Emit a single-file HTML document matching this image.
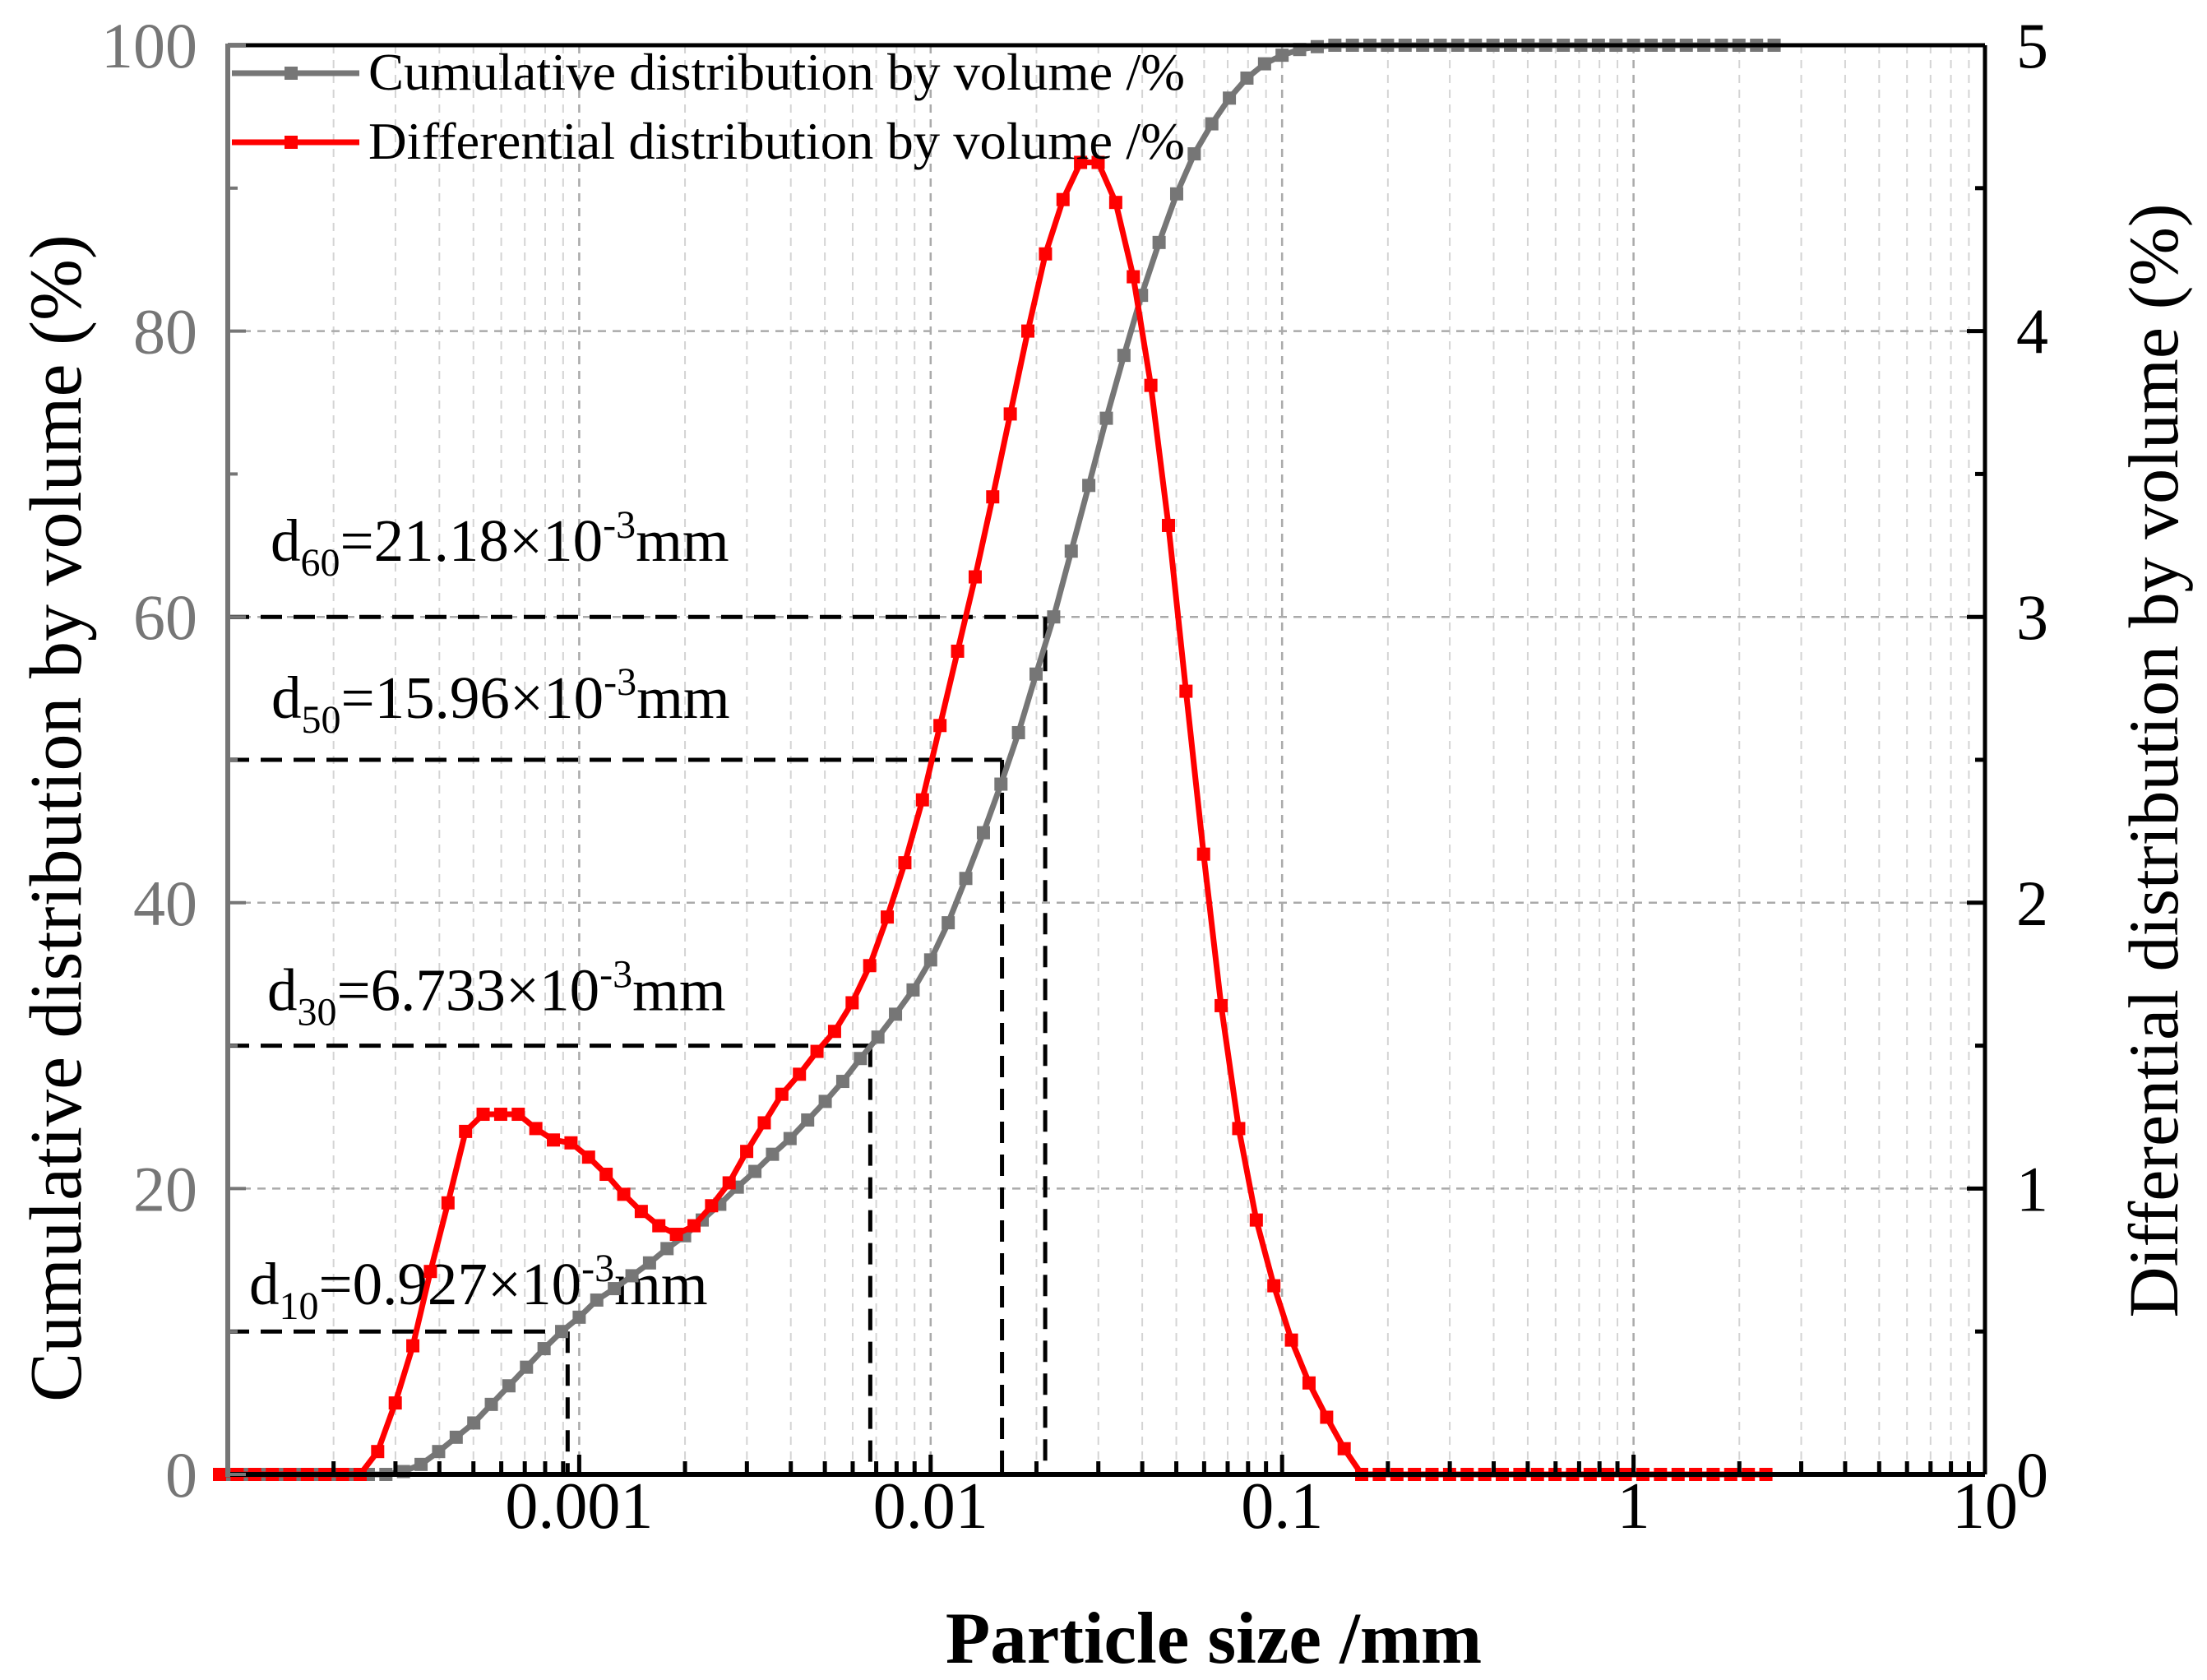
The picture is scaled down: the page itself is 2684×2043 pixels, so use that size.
<!DOCTYPE html>
<html><head><meta charset="utf-8"><style>
html,body{margin:0;padding:0;background:#fff}
svg{display:block;font-family:"Liberation Serif",serif}
</style></head><body>
<svg id="chart" width="2684" height="2043" viewBox="0 0 2684 2043" xmlns="http://www.w3.org/2000/svg">
<g id="grid"></g>
<g id="annot"></g>
<g id="series"></g>
<g id="axes"></g>
<g id="legend"></g>
</svg>
<script>
const sizes = [
0.0001,0.0001122,0.0001259,0.0001413,0.0001585,0.0001778,0.0001995,0.0002239,0.0002512,0.0002818,
0.0003162,0.0003548,0.0003981,0.0004467,0.0005012,0.0005623,0.000631,0.0007079,0.0007943,0.0008913,
0.001,0.001122,0.001259,0.001413,0.001585,0.001778,0.001995,0.002239,0.002512,0.002818,
0.003162,0.003548,0.003981,0.004467,0.005012,0.005623,0.00631,0.007079,0.007943,0.008913,
0.01,0.01122,0.01259,0.01413,0.01585,0.01778,0.01995,0.02239,0.02512,0.02818,
0.03162,0.03548,0.03981,0.04467,0.05012,0.05623,0.0631,0.07079,0.07943,0.08913,
0.1,0.1122,0.1259,0.1413,0.1585,0.1778,0.1995,0.2239,0.2512,0.2818,
0.3162,0.3548,0.3981,0.4467,0.5012,0.5623,0.631,0.7079,0.7943,0.8913,
1,1.122,1.259,1.413,1.585,1.778,1.995,2.239,2.512];
const cumulative = [
0,0,0,0,0,0,0,0,0,0,
0.2,0.7,1.6,2.6,3.6,4.9,6.2,7.5,8.8,10,
11,12.2,13,13.9,14.8,15.8,16.7,17.8,18.9,20.1,
21.2,22.4,23.5,24.8,26.1,27.5,29.1,30.6,32.2,33.9,
36,38.6,41.7,44.9,48.3,51.9,56,60,64.6,69.2,
73.9,78.3,82.5,86.2,89.6,92.4,94.5,96.3,97.7,98.7,
99.3,99.7,99.9,100,100,100,100,100,100,100,
100,100,100,100,100,100,100,100,100,100,
100,100,100,100,100,100,100,100,100];
const differential = [
0,0,0,0,0,0,0,0,0,0.08,
0.25,0.45,0.71,0.95,1.2,1.26,1.26,1.26,1.21,1.17,
1.16,1.11,1.05,0.98,0.92,0.87,0.84,0.87,0.94,1.02,
1.13,1.23,1.33,1.40,1.48,1.55,1.65,1.78,1.95,2.14,
2.36,2.62,2.88,3.14,3.42,3.71,4.0,4.27,4.46,4.59,
4.59,4.45,4.19,3.81,3.32,2.74,2.17,1.64,1.21,0.89,
0.66,0.47,0.32,0.2,0.09,0,0,0,0,0,
0,0,0,0,0,0,0,0,0,0,
0,0,0,0,0,0,0,0,0];
const dLabels = ["60","50","30","10"];
const dValues = ["21.18","15.96","6.733","0.927"];
const dPercent = [60,50,30,10];
const dSizes = [0.02118,0.01596,0.006733,0.000927];
const xTicks = [0.001,0.01,0.1,1,10];
const xTickLabels = ["0.001","0.01","0.1","1","10"];
const yLeftTicks = [0,20,40,60,80,100];
const yRightTicks = [0,1,2,3,4,5];

const L=277,R=2414,T=55,B=1793;
const X = v => L + (Math.log10(v)+4)/5*(R-L);
const YL = v => B - v/100*(B-T);
const YR = v => B - v/5*(B-T);
const NS="http://www.w3.org/2000/svg";
function mk(tag, attrs, parent, text){
  const e=document.createElementNS(NS,tag);
  for(const k in attrs) e.setAttribute(k,attrs[k]);
  if(text!==undefined) e.textContent=text;
  parent.appendChild(e); return e;
}
const grid=document.getElementById('grid'), axes=document.getElementById('axes'),
 series=document.getElementById('series'), annot=document.getElementById('annot'), legend=document.getElementById('legend');

for(let d=-4; d<1; d++){
  for(let m=1;m<10;m++){
    const v=m*Math.pow(10,d); const x=X(v);
    if(m===1 && d===-4) continue;
    const g=mk('line',{x1:x,x2:x,y1:T,y2:B,stroke:m===1?'#aaaaaa':'#d4d4d4','stroke-width':m===1?2.5:2,'stroke-dasharray':'10 8'},grid);
    
    
    const tl = m===1?24:16;
    const t=mk('line',{x1:x,x2:x,y1:B,y2:B-tl,stroke:'#000','stroke-width':5},axes);
    
    
  }
}
[20,40,60,80].forEach(v=>{
  const g=mk('line',{x1:L,x2:R,y1:YL(v),y2:YL(v),stroke:'#aaaaaa','stroke-width':2.5,'stroke-dasharray':'10 8'},grid);
  
  
});

const labelRise=[68,51,43,33], labelX=[329,330,325,303];
dPercent.forEach((p,i)=>{
  const x=X(dSizes[i]), y=YL(p);
  const h=mk('line',{x1:L,x2:x,y1:y,y2:y,stroke:'#000','stroke-width':5,'stroke-dasharray':'26 14'},annot);
  
  
  const v=mk('line',{x1:x,x2:x,y1:y,y2:B,stroke:'#000','stroke-width':5,'stroke-dasharray':'26 14'},annot);
  
  
  const t=mk('text',{x:labelX[i],y:y-labelRise[i],'font-size':73,fill:'#000'},annot);
  
  
  mk('tspan',{},t,'d');
  mk('tspan',{'font-size':48,dy:18},t,dLabels[i]);
  mk('tspan',{dy:-18},t,'='+dValues[i]+'×10');
  mk('tspan',{'font-size':48,dy:-28},t,'-3');
  mk('tspan',{dy:28},t,'mm');
});

function drawSeries(vals, yf, color, name, dx){
  let pts=sizes.map((s,i)=>(X(s)+dx)+','+yf(vals[i])).join(' ');
  const pl=mk('polyline',{points:pts,fill:'none',stroke:color,'stroke-width':7,'stroke-linejoin':'round'},series);
  
  
  sizes.forEach((s,i)=>{
    const r=mk('rect',{x:X(s)+dx-8,y:yf(vals[i])-8,width:16,height:16,fill:color},series);
    
    
  });
}
drawSeries(cumulative, YL, '#767676', 'cumulative', 0);
drawSeries(differential, YR, '#ff0000', 'differential', -10);

let s;
s=mk('line',{x1:L,x2:R,y1:T,y2:T,stroke:'#000','stroke-width':5},axes);  
s=mk('line',{x1:R,x2:R,y1:T,y2:B,stroke:'#000','stroke-width':5},axes);  
s=mk('line',{x1:L,x2:R,y1:B,y2:B,stroke:'#000','stroke-width':6},axes);  
s=mk('line',{x1:L,x2:L,y1:T-2,y2:B+3,stroke:'#767676','stroke-width':6},axes);  

for(let v=0; v<=100; v+=10){
  const t=mk('line',{x1:L,x2:L+(v%20===0?22:12),y1:YL(v),y2:YL(v),stroke:'#767676','stroke-width':4},axes);
  
  
}
for(let v=0; v<=5; v+=0.5){
  const t=mk('line',{x1:R,x2:R-(v%1===0?22:12),y1:YR(v),y2:YR(v),stroke:'#000','stroke-width':5},axes);
  
  
}
xTicks.forEach((v,i)=>{
  const t=mk('text',{x:X(v),y:1858,'font-size':80,'text-anchor':'middle',fill:'#000'},axes,xTickLabels[i]);
  
  
});
yLeftTicks.forEach(v=>{
  const t=mk('text',{x:240,y:YL(v)+27,'font-size':78,'text-anchor':'end',fill:'#767676'},axes,String(v));
  
  
});
yRightTicks.forEach(v=>{
  const t=mk('text',{x:2452,y:YR(v)+27,'font-size':78,'text-anchor':'start',fill:'#000'},axes,String(v));
  
  
});
s=mk('text',{x:1476,y:2022,'font-size':89,'font-weight':'bold','text-anchor':'middle',fill:'#000'},axes,'Particle size /mm');
 
s=mk('text',{x:0,y:0,'font-size':90,'text-anchor':'middle',fill:'#000',transform:'translate(98,995) rotate(-90)'},axes,'Cumulative distribution by volume (%)');
 
s=mk('text',{x:0,y:0,'font-size':86,'text-anchor':'middle',fill:'#000',transform:'translate(2648,925) rotate(-90)'},axes,'Differential distribution by volume (%)');
 

[['#767676','Cumulative distribution by volume /%',89,'legend-cumulative'],['#ff0000','Differential distribution by volume /%',173,'legend-differential']].forEach(e=>{
  const g=mk('g',{},legend);
  
  
  mk('line',{x1:282,x2:437,y1:e[2],y2:e[2],stroke:e[0],'stroke-width':7},g);
  mk('rect',{x:346,y:e[2]-8,width:16,height:16,fill:e[0]},g);
  mk('text',{x:448,y:e[2]+20,'font-size':64,fill:'#000',textLength:993,lengthAdjust:'spacingAndGlyphs'},g,e[1]);
});
</script>
</body></html>
